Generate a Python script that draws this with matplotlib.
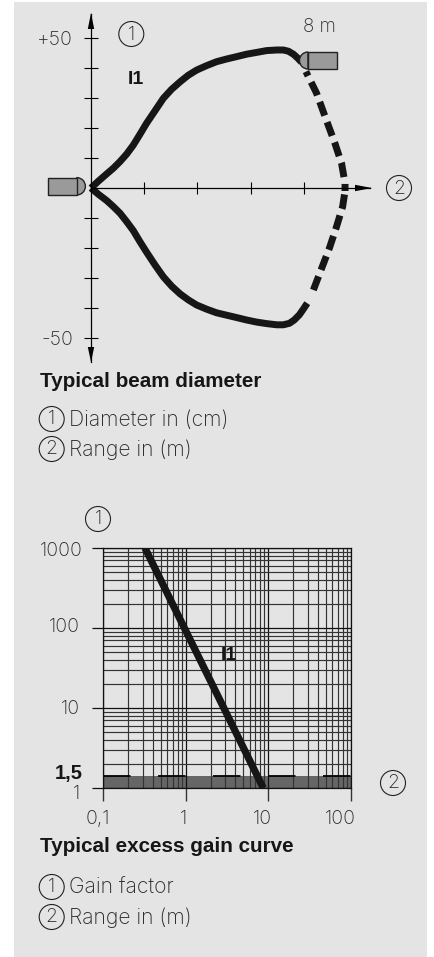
import matplotlib
matplotlib.use("Agg")
import matplotlib.pyplot as plt
from matplotlib.patches import Rectangle, Circle, Polygon, Wedge
from matplotlib.ticker import NullFormatter, LogLocator, FixedLocator

plt.rcParams["lines.scale_dashes"] = False

W, H = 435, 957
NUM = ["Inter", "Liberation Sans", "DejaVu Sans"]
BOLD = ["Liberation Sans", "DejaVu Sans"]
LAB = ["Inter", "Liberation Sans", "DejaVu Sans"]
INK = "#161616"
PANEL = "#e4e4e4"

# Beam diameter chart: range in m, diameter in cm
upper_solid_x = [0, 0.28, 0.59, 0.84, 1.09, 1.34, 1.59, 1.84, 2.09, 2.41, 2.72, 3.03, 3.35, 3.66, 3.97,
                 4.35, 4.72, 5.10, 5.48, 5.85, 6.23, 6.60, 6.98, 7.23, 7.42, 7.61, 7.77, 7.92]
upper_solid_y = [0, 2.3, 4.7, 6.6, 8.8, 11.3, 14.3, 17.9, 21.6, 25.8, 29.9, 32.9, 35.4, 37.6, 39.3,
                 40.8, 42.1, 43.0, 43.8, 44.6, 45.2, 45.8, 46.0, 46.0, 45.6, 44.6, 43.3, 41.9]
upper_dash_x = [8.08, 8.48, 8.80, 9.17, 9.42, 9.55, 9.55]
upper_dash_y = [38.8, 31.6, 23.8, 14.9, 8.2, 1.6, -1]
lower_solid_x = [0, 0.28, 0.59, 0.84, 1.09, 1.34, 1.59, 1.84, 2.09, 2.41, 2.72, 3.03, 3.35, 3.66, 3.97,
                 4.35, 4.72, 5.10, 5.48, 5.85, 6.23, 6.60, 6.98, 7.23, 7.46, 7.64, 7.83, 7.98, 8.13]
lower_solid_y = [0, -2.1, -4.2, -6.2, -8.4, -11.2, -14.2, -17.9, -21.4, -25.7, -29.6, -32.7, -35.3, -37.3, -39.0,
                 -40.4, -41.6, -42.4, -43.2, -44.0, -44.7, -45.2, -45.6, -45.6, -45.1, -44.0, -42.3, -40.4, -38.4]
lower_dash_x = [8.36, 8.67, 8.96, 9.23, 9.46, 9.55]
lower_dash_y = [-34.0, -26.8, -20.1, -12.9, -6.2, -1]
beam_xticks = [2, 4, 6, 8]
beam_yticks = [-50, -40, -30, -20, -10, 10, 20, 30, 40, 50]

# Excess gain chart
gain_range = [0.32, 8.7]
gain_factor = [1000, 1]
gain_limit = 1.41
gain_xticks = [0.1, 1, 10, 100]
gain_yticks = [1, 10, 100, 1000]


def box(x0, y0, x1, y1):
    return [x0 / W, 1 - y1 / H, (x1 - x0) / W, (y1 - y0) / H]


fig = plt.figure(figsize=(W / 100, H / 100), dpi=100, facecolor="white")

bg = fig.add_axes([0, 0, 1, 1], zorder=0)
bg.set_xlim(0, W)
bg.set_ylim(H, 0)
bg.axis("off")
bg.add_patch(Rectangle((14, 2), 413, 955, fc=PANEL, ec="none"))

# ---- beam chart ----
ax = fig.add_axes(box(91, 14, 370.3, 362), zorder=2)
ax.patch.set_alpha(0)
ax.set_xlim(0, 10.5)
ax.set_ylim(-58, 58)
for s in ("top", "right"):
    ax.spines[s].set_visible(False)
ax.spines["left"].set_position(("data", 0))
ax.spines["bottom"].set_position(("data", 0))
for s in ("left", "bottom"):
    ax.spines[s].set_color("black")
    ax.spines[s].set_linewidth(0.9)
ax.set_xticks(beam_xticks)
ax.set_xticklabels([])
ax.set_yticks(beam_yticks)
ax.set_yticklabels(["-50" if v == -50 else "+50" if v == 50 else "" for v in beam_yticks],
                   fontsize=14, family=NUM, fontweight="light", color="#2a2a2a")
ax.tick_params(axis="x", direction="inout", length=9, width=0.8, color="black")
ax.tick_params(axis="y", direction="inout", length=10, width=0.8, color="black", pad=8)
solid = dict(color=INK, lw=5.0, solid_capstyle="butt", solid_joinstyle="round", clip_on=False)
dash = dict(color=INK, lw=5.0, dash_capstyle="butt", clip_on=False)
ax.plot(upper_solid_x, upper_solid_y, **solid)
ax.plot(lower_solid_x, lower_solid_y, **solid)
ax.plot(upper_dash_x, upper_dash_y, linestyle=(7, (10.5, 5)), **dash)
ax.plot(lower_dash_x, lower_dash_y, linestyle=(0, (10.5, 5)), **dash)

# ---- gain chart ----
ax2 = fig.add_axes(box(103.3, 548, 350.7, 788), zorder=2)
ax2.patch.set_alpha(0)
ax2.set_xscale("log")
ax2.set_yscale("log")
ax2.set_xlim(0.1, 100)
ax2.set_ylim(1, 1000)
ax2.axhspan(gain_factor[1], gain_limit, color="#666666", lw=0, zorder=0.5)
ax2.xaxis.set_minor_locator(LogLocator(base=10, subs=range(2, 10)))
ax2.yaxis.set_minor_locator(LogLocator(base=10, subs=range(2, 10)))
ax2.xaxis.set_major_locator(FixedLocator(gain_xticks))
ax2.yaxis.set_major_locator(FixedLocator(gain_yticks))
ax2.xaxis.set_minor_formatter(NullFormatter())
ax2.yaxis.set_minor_formatter(NullFormatter())
ax2.set_xticklabels([])
ax2.set_yticklabels([])
ax2.grid(True, which="major", color="#111111", lw=0.9, zorder=1)
ax2.grid(True, which="minor", color="#333333", lw=0.85, zorder=1)
ax2.set_axisbelow(True)
ax2.tick_params(axis="both", which="minor", length=0)
ax2.tick_params(axis="x", which="major", direction="out", length=9.4, width=1.0, color="#333333")
ax2.tick_params(axis="y", which="major", direction="out", length=8, width=0.9, color="#111111")
for s in ax2.spines.values():
    s.set_color("#111111")
    s.set_linewidth(0.9)
ax2.plot([0.1, 100], [gain_limit, gain_limit], color="black", lw=1.3, clip_on=False,
         linestyle=(0, (19.8, 19.8)), dash_capstyle="butt", zorder=2)
ax2.plot(gain_range, gain_factor, color=INK, lw=5.2, solid_capstyle="butt", clip_on=True, zorder=3)

# ---- overlay: arrows, icons, labels ----
ov = fig.add_axes([0, 0, 1, 1], zorder=3)
ov.set_xlim(0, W)
ov.set_ylim(H, 0)
ov.axis("off")
ov.patch.set_alpha(0)
for pts in ([(91, 13), (87.8, 29), (94.2, 29)], [(91, 362), (87.8, 347), (94.2, 347)],
            [(372, 188), (355, 184.8), (355, 191.2)]):
    ov.add_patch(Polygon(pts, fc="black", ec="none"))

SENSOR = "#9a9a9a"
EDGE = "#222222"
ov.add_patch(Wedge((76.7, 186.3), 8.7, -90, 90, fc=SENSOR, ec=EDGE, lw=1))
ov.add_patch(Rectangle((48.3, 177.7), 28.4, 17.3, fc=SENSOR, ec=EDGE, lw=1))
ov.add_patch(Wedge((308, 60.5), 8.5, 90, 270, fc=SENSOR, ec=EDGE, lw=1))
ov.add_patch(Rectangle((308, 52), 29, 17, fc=SENSOR, ec=EDGE, lw=1))


def num(x, y, s, ha="center", **kw):
    ov.text(x, y, s, ha=ha, va="center", family=NUM, fontweight="light", color="#2a2a2a", **kw)


def marker(x, y, s):
    ov.add_patch(Circle((x, y), 12.5, fc="none", ec="#222222", lw=0.8))
    ov.text(x, y + 0.5, s, ha="center", va="center", family=NUM, fontweight="light",
            fontsize=14, color="#2a2a2a")


for x, y, s in ((131.3, 34, "1"), (399, 188, "2"), (51.7, 419, "1"), (51.7, 449, "2"),
                (98, 519, "1"), (393, 783, "2"), (51.7, 887, "1"), (51.7, 917, "2")):
    marker(x, y, s)

num(319, 27, "8 m", fontsize=13.5)
ov.text(136, 79, "I1", ha="center", va="center", family=BOLD, fontsize=14, fontweight="bold", color="#161616")
ov.text(229, 655, "I1", ha="center", va="center", family=BOLD, fontsize=14, fontweight="bold", color="#161616")
for x, y, s in ((83, 551, "1000"), (80, 627, "100"), (80, 709, "10"), (80, 794, "1")):
    num(x, y, s, ha="right", fontsize=14)
ov.text(83, 773, "1,5", ha="right", va="center", family=BOLD, fontsize=14.5, fontweight="bold", color="#161616")
for x, s in ((98, "0,1"), (183, "1"), (262, "10"), (340, "100")):
    num(x, 819, s, fontsize=14)

for y, s in ((381.7, "Typical beam diameter"), (847, "Typical excess gain curve")):
    ov.text(40, y, s, ha="left", va="center", family=BOLD, fontweight="bold", fontsize=14.9, color="#161616")
for y, s in ((420, "Diameter in (cm)"), (450, "Range in (m)"), (888, "Gain factor"), (918, "Range in (m)")):
    ov.text(69, y, s, ha="left", va="center", family=LAB, fontsize=15.2, fontweight="light", color="#2a2a2a")

fig.savefig("out.png", dpi=100, facecolor="white")
